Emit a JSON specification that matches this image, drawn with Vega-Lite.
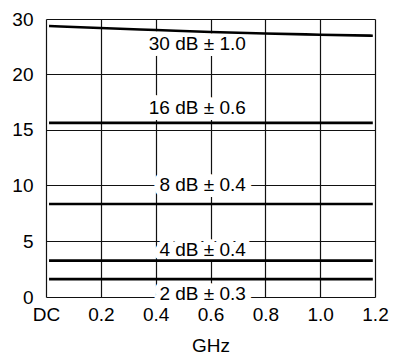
{
  "$schema": "https://vega.github.io/schema/vega-lite/v6.json",
  "autosize": {"type": "none"},
  "padding": {"left": 46, "top": 19, "right": 19, "bottom": 59},
  "width": 329,
  "height": 278,
  "background": "white",
  "config": {
    "view": {"stroke": null},
    "font": "Liberation Sans"
  },
  "datasets": {
    "curves": [
      {"series": "30 dB", "ghz": 0.011, "db": 28.73},
      {"series": "30 dB", "ghz": 0.197, "db": 28.36},
      {"series": "30 dB", "ghz": 0.401, "db": 28.0},
      {"series": "30 dB", "ghz": 0.602, "db": 27.64},
      {"series": "30 dB", "ghz": 0.799, "db": 27.36},
      {"series": "30 dB", "ghz": 0.999, "db": 27.15},
      {"series": "30 dB", "ghz": 1.192, "db": 26.96},
      {"series": "16 dB", "ghz": 0.011, "db": 15.6},
      {"series": "16 dB", "ghz": 1.192, "db": 15.6},
      {"series": "8 dB", "ghz": 0.011, "db": 8.3},
      {"series": "8 dB", "ghz": 1.192, "db": 8.3},
      {"series": "4 dB", "ghz": 0.011, "db": 3.25},
      {"series": "4 dB", "ghz": 1.192, "db": 3.25},
      {"series": "2 dB", "ghz": 0.011, "db": 1.6},
      {"series": "2 dB", "ghz": 1.192, "db": 1.6}
    ],
    "labels": [
      {"text": "30 dB ± 1.0", "ghz": 0.729, "db": 25.5},
      {"text": "16 dB ± 0.6", "ghz": 0.729, "db": 16.9},
      {"text": "8 dB ± 0.4", "ghz": 0.729, "db": 10.0},
      {"text": "4 dB ± 0.4", "ghz": 0.729, "db": 4.24},
      {"text": "2 dB ± 0.3", "ghz": 0.729, "db": 0.31}
    ]
  },
  "encoding": {
    "x": {
      "field": "ghz",
      "type": "quantitative",
      "scale": {"domain": [0, 1.2], "nice": false, "zero": false},
      "axis": {
        "title": "GHz",
        "values": [0, 0.2, 0.4, 0.6, 0.8, 1.0, 1.2],
        "labelExpr": "datum.value == 0 ? 'DC' : format(datum.value, '.1f')",
        "grid": true,
        "gridColor": "#111",
        "gridWidth": 1.2,
        "gridOpacity": 1,
        "domain": false,
        "ticks": false,
        "tickSize": 0,
        "labelPadding": 8,
        "labelFontSize": 19,
        "labelColor": "black",
        "labelFlush": false,
        "labelOverlap": false,
        "titleFontSize": 19,
        "titleFontWeight": "normal",
        "titleColor": "black",
        "titlePadding": 12,
        "encode": {"labels": {"update": {"dx": {"signal": "datum.value == 0 ? 3.5 : 0"}}}}
      }
    },
    "y": {
      "field": "db",
      "type": "quantitative",
      "scale": {"domain": [0, 5, 10, 15, 20, 30], "range": [278, 222, 166, 110.5, 55, 0], "nice": false, "zero": false},
      "axis": {
        "title": null,
        "values": [0, 5, 10, 15, 20, 30],
        "grid": true,
        "gridColor": "#111",
        "gridWidth": 1.2,
        "gridOpacity": 1,
        "domain": false,
        "ticks": false,
        "tickSize": 0,
        "labelPadding": 13,
        "labelFontSize": 19,
        "labelColor": "black",
        "labelOverlap": false,
        "labelFlush": false,
        "encode": {"labels": {"update": {"dy": {"signal": "datum.value == 0 ? -3 : datum.value == 5 ? 9 : datum.value == 10 ? 2 : datum.value == 15 ? -4 : datum.value == 20 ? -9.5 : 3"}}}}
      }
    }
  },
  "layer": [
    {
      "data": {"name": "labels"},
      "mark": {"type": "text", "align": "right", "baseline": "middle", "fontSize": 19, "stroke": "white", "strokeWidth": 12, "strokeJoin": "round", "color": "white"},
      "encoding": {"text": {"field": "text"}}
    },
    {
      "data": {"name": "curves"},
      "mark": {"type": "line", "color": "black", "strokeWidth": 2.6, "interpolate": "monotone"},
      "encoding": {"detail": {"field": "series"}}
    },
    {
      "data": {"name": "labels"},
      "mark": {"type": "text", "align": "right", "baseline": "middle", "fontSize": 19, "color": "black"},
      "encoding": {"text": {"field": "text"}}
    }
  ]
}
